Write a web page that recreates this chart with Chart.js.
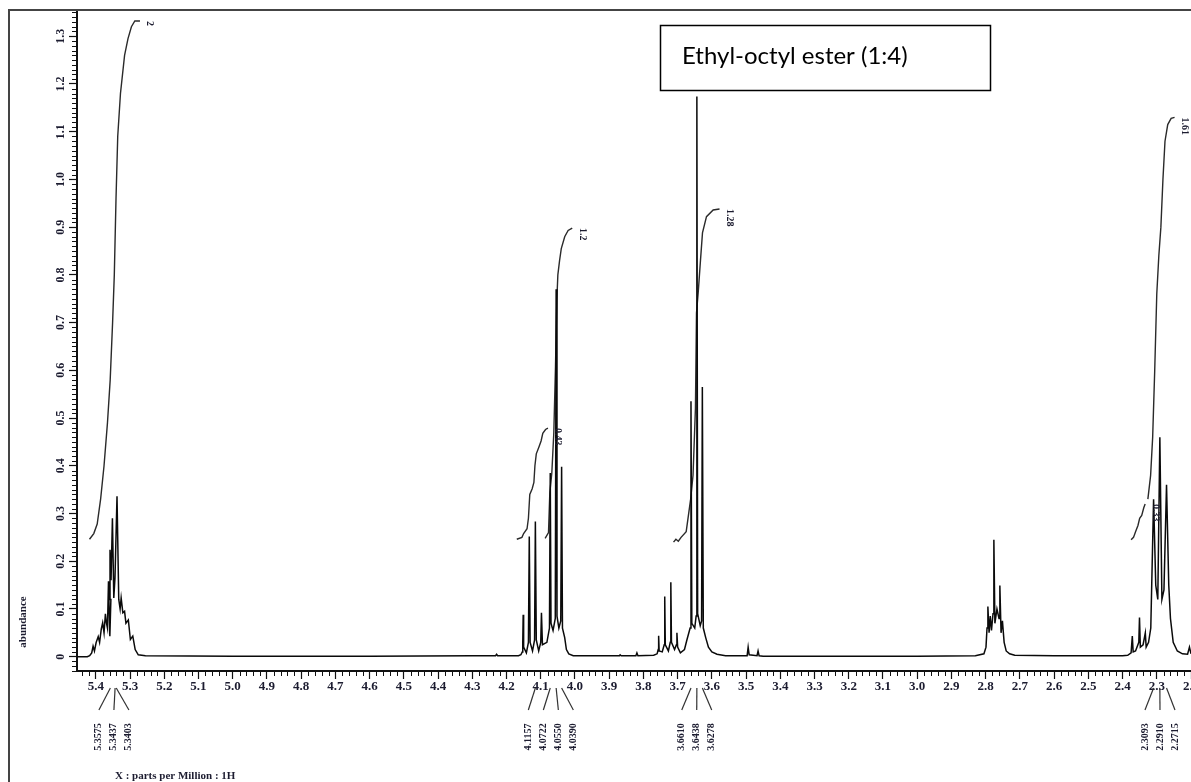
<!DOCTYPE html>
<html>
<head>
<meta charset="utf-8">
<title>1H NMR - Ethyl-octyl ester</title>
<script src="https://cdn.jsdelivr.net/npm/chart.js@4.4.1/dist/chart.umd.min.js"></script>
<style>
  html, body { margin: 0; padding: 0; background: #fff; }
  #wrap { width: 1191px; height: 782px; }
</style>
</head>
<body>
<div id="wrap"><canvas id="nmr" width="1191" height="782"></canvas></div>
<script>
// axis ranges (ppm runs right to left)
const xRange = [2.2, 5.455];
const yRange = [-0.03, 1.355];

// spectrum trace, [ppm, abundance], high field last
const olefinic = [
  [5.455, 0.000], [5.425, 0.000], [5.418, 0.002], [5.412, 0.008], [5.408, 0.022],
  [5.404, 0.012], [5.399, 0.030], [5.393, 0.042], [5.389, 0.030], [5.384, 0.058],
  [5.380, 0.071], [5.376, 0.050], [5.372, 0.090], [5.369, 0.071], [5.366, 0.060],
  [5.363, 0.158], [5.359, 0.043], [5.356, 0.120], [5.3585, 0.224], [5.3555, 0.160],
  [5.3515, 0.290], [5.3475, 0.123], [5.344, 0.165], [5.3381, 0.336], [5.333, 0.120],
  [5.329, 0.100], [5.326, 0.123], [5.321, 0.092], [5.316, 0.095], [5.312, 0.070],
  [5.305, 0.077], [5.299, 0.036], [5.292, 0.043], [5.285, 0.015], [5.276, 0.004],
  [5.255, 0.002]
];
const emptyLow = [
  [5.0, 0.001], [4.6, 0.001], [4.3, 0.002], [4.232, 0.002], [4.229, 0.005],
  [4.226, 0.002], [4.165, 0.002]
];
const esterCH2 = [
  [4.158, 0.004], [4.154, 0.010], [4.1525, 0.030], [4.1513, 0.088], [4.150, 0.020],
  [4.142, 0.008], [4.136, 0.030], [4.1335, 0.252], [4.131, 0.030], [4.124, 0.012],
  [4.118, 0.035], [4.1157, 0.283], [4.113, 0.035], [4.106, 0.012], [4.100, 0.030],
  [4.0979, 0.092], [4.095, 0.025], [4.082, 0.030], [4.0745, 0.060], [4.0722, 0.385],
  [4.0700, 0.070], [4.064, 0.055], [4.0575, 0.080], [4.0550, 0.770], [4.0525, 0.085],
  [4.047, 0.060], [4.0415, 0.075], [4.0390, 0.398], [4.0365, 0.060], [4.030, 0.040],
  [4.025, 0.015], [4.018, 0.006], [4.005, 0.002]
];
const methylene36 = [
  [3.870, 0.002], [3.868, 0.004], [3.865, 0.002], [3.822, 0.002], [3.819, 0.008],
  [3.816, 0.002], [3.770, 0.003], [3.760, 0.006], [3.7568, 0.015], [3.7555, 0.044],
  [3.754, 0.012], [3.745, 0.010], [3.7392, 0.025], [3.7377, 0.126], [3.736, 0.025],
  [3.727, 0.012], [3.7215, 0.030], [3.7199, 0.156], [3.718, 0.030], [3.709, 0.015],
  [3.7036, 0.025], [3.7021, 0.050], [3.700, 0.020], [3.692, 0.008], [3.680, 0.015],
  [3.673, 0.035], [3.6635, 0.060], [3.6610, 0.535], [3.6585, 0.070], [3.650, 0.060],
  [3.646, 0.085], [3.6438, 1.174], [3.6415, 0.090], [3.634, 0.065], [3.630, 0.075],
  [3.6278, 0.565], [3.625, 0.060], [3.618, 0.040], [3.610, 0.020], [3.600, 0.010],
  [3.585, 0.005], [3.560, 0.002], [3.497, 0.002], [3.494, 0.020], [3.491, 0.004],
  [3.468, 0.002], [3.465, 0.012], [3.462, 0.002], [3.450, 0.001], [3.0, 0.001],
  [2.83, 0.002]
];
const bisAllylic = [
  [2.805, 0.006], [2.799, 0.020], [2.7960, 0.060], [2.7935, 0.105], [2.790, 0.050],
  [2.7865, 0.085], [2.783, 0.055], [2.7785, 0.090], [2.7760, 0.245], [2.773, 0.070],
  [2.767, 0.100], [2.7610, 0.080], [2.7585, 0.149], [2.755, 0.050], [2.751, 0.075],
  [2.746, 0.030], [2.740, 0.012], [2.730, 0.006], [2.715, 0.003], [2.60, 0.002],
  [2.40, 0.002]
];
const alphaCH2 = [
  [2.385, 0.003], [2.375, 0.008], [2.3715, 0.043], [2.369, 0.010], [2.362, 0.012],
  [2.3525, 0.030], [2.3505, 0.082], [2.348, 0.020], [2.340, 0.025], [2.3335, 0.050],
  [2.331, 0.020], [2.324, 0.030], [2.3175, 0.060], [2.3093, 0.330], [2.303, 0.150],
  [2.297, 0.120], [2.2910, 0.460], [2.285, 0.120], [2.279, 0.140], [2.2715, 0.360],
  [2.265, 0.150], [2.260, 0.080], [2.252, 0.030], [2.240, 0.012], [2.225, 0.006],
  [2.210, 0.005], [2.2045, 0.020], [2.200, 0.006]
];

// integral curves, [ppm, height]
const int2 = [
  [5.4185, 0.246], [5.406, 0.258], [5.396, 0.278], [5.386, 0.330], [5.376, 0.400],
  [5.366, 0.490], [5.358, 0.580], [5.351, 0.700], [5.346, 0.800], [5.341, 0.960],
  [5.336, 1.090], [5.328, 1.180], [5.316, 1.260], [5.306, 1.295], [5.296, 1.320],
  [5.286, 1.332], [5.271, 1.332]
];
const int043 = [
  [4.170, 0.246], [4.155, 0.250], [4.150, 0.258], [4.140, 0.268], [4.136, 0.290],
  [4.132, 0.340], [4.125, 0.352], [4.120, 0.365], [4.117, 0.400], [4.113, 0.425],
  [4.105, 0.440], [4.099, 0.452], [4.094, 0.468], [4.086, 0.476], [4.079, 0.479]
];
const int12 = [
  [4.0872, 0.248], [4.0773, 0.260], [4.0735, 0.343], [4.0676, 0.385], [4.0618, 0.469],
  [4.0569, 0.608], [4.0530, 0.747], [4.0500, 0.800], [4.045, 0.830], [4.040, 0.855],
  [4.030, 0.880], [4.020, 0.893], [4.008, 0.898]
];
const int128 = [
  [3.712, 0.240], [3.705, 0.246], [3.698, 0.242], [3.690, 0.250], [3.675, 0.262],
  [3.662, 0.330], [3.655, 0.380], [3.648, 0.520], [3.6449, 0.720], [3.640, 0.762],
  [3.6332, 0.831], [3.6274, 0.888], [3.6157, 0.922], [3.5962, 0.936], [3.5776, 0.938]
];
const int033 = [
  [2.375, 0.245], [2.368, 0.250], [2.362, 0.262], [2.355, 0.275], [2.350, 0.290],
  [2.344, 0.296], [2.338, 0.312], [2.334, 0.320]
];
const int161 = [
  [2.326, 0.330], [2.318, 0.380], [2.312, 0.460], [2.306, 0.600], [2.300, 0.760],
  [2.294, 0.840], [2.288, 0.900], [2.282, 1.000], [2.276, 1.080], [2.268, 1.115],
  [2.258, 1.128], [2.248, 1.130]
];
const integralCurves = [int2, int043, int12, int128, int033, int161];
const integralValues = ['2', '0.43', '1.2', '1.28', '0.33', '1.61'];

// peak picks shown under the axis
const peakPicks = [
  [5.3575, 5.3437, 5.3403],
  [4.1157, 4.0722, 4.0550, 4.0390],
  [3.6610, 3.6438, 3.6278],
  [2.3093, 2.2910, 2.2715]
];

const spectrum = [].concat(olefinic, emptyLow, esterCH2, methylene36, bisAllylic, alphaCH2);
const toXY = arr => arr.map(p => ({ x: p[0], y: p[1] }));

const serif = "'Liberation Serif', 'Times New Roman', serif";
const ink = '#1c1c30';

const decor = {
  id: 'decor',
  afterDraw(chart) {
    const { ctx, chartArea: a, scales: { x, y } } = chart;
    ctx.save();

    // outer frame
    ctx.strokeStyle = '#444';
    ctx.lineWidth = 2;
    ctx.beginPath();
    ctx.moveTo(9, 782); ctx.lineTo(9, 10); ctx.lineTo(1191, 10);
    ctx.stroke();

    // minor ticks
    ctx.strokeStyle = '#111';
    ctx.lineWidth = 1;
    ctx.beginPath();
    for (let v = Math.ceil(yRange[0] * 100); v <= Math.floor(yRange[1] * 100); v++) {
      if (v % 10 === 0) continue;
      const py = Math.round(y.getPixelForValue(v / 100)) + 0.5;
      ctx.moveTo(a.left - 5, py); ctx.lineTo(a.left, py);
    }
    for (let v = Math.ceil(xRange[0] * 50); v <= Math.floor(xRange[1] * 50); v++) {
      if (v % 5 === 0) continue;
      const px = Math.round(x.getPixelForValue(v / 50)) + 0.5;
      ctx.moveTo(px, a.bottom); ctx.lineTo(px, a.bottom + 5);
    }
    ctx.stroke();

    // rotated y tick labels
    ctx.fillStyle = ink;
    ctx.font = 'bold 12px ' + serif;
    ctx.textAlign = 'center';
    ctx.textBaseline = 'middle';
    y.ticks.forEach(t => {
      const py = y.getPixelForValue(t.value);
      ctx.save();
      ctx.translate(61, py);
      ctx.rotate(-Math.PI / 2);
      ctx.fillText(t.value === 0 ? '0' : t.value.toFixed(1), 0, 0);
      ctx.restore();
    });

    // axis titles
    ctx.save();
    ctx.translate(23, 622);
    ctx.rotate(-Math.PI / 2);
    ctx.font = 'bold 11px ' + serif;
    ctx.fillText('abundance', 0, 0);
    ctx.restore();
    ctx.textAlign = 'left';
    ctx.font = 'bold 11px ' + serif;
    ctx.fillText('X : parts per Million : 1H', 115, 776);

    // peak pick connectors and values
    ctx.strokeStyle = '#333';
    ctx.lineWidth = 1.2;
    ctx.font = 'bold 10px ' + serif;
    peakPicks.forEach(group => {
      const px = group.map(v => x.getPixelForValue(v));
      const mid = px.reduce((s, v) => s + v, 0) / px.length;
      group.forEach((v, i) => {
        const lx = mid + (i - (group.length - 1) / 2) * 15;
        ctx.beginPath();
        ctx.moveTo(px[i], a.bottom + 17);
        ctx.lineTo(lx, a.bottom + 39);
        ctx.stroke();
        ctx.save();
        ctx.translate(lx, 737);
        ctx.rotate(-Math.PI / 2);
        ctx.textAlign = 'center';
        ctx.fillText(v.toFixed(4), 0, 0);
        ctx.restore();
      });
    });

    // integral values, next to the end of each curve
    ctx.font = 'bold 10px ' + serif;
    integralCurves.forEach((curve, i) => {
      const end = curve[curve.length - 1];
      const ex = x.getPixelForValue(end[0]) + 10;
      const ey = y.getPixelForValue(end[1]);
      ctx.save();
      ctx.translate(ex, ey);
      ctx.rotate(Math.PI / 2);
      ctx.textAlign = 'left';
      ctx.fillText(integralValues[i], 0, 0);
      ctx.restore();
    });

    // sample caption
    ctx.fillStyle = '#fff';
    ctx.fillRect(660, 25, 330, 65);
    ctx.strokeStyle = '#000';
    ctx.lineWidth = 1.5;
    ctx.strokeRect(660.5, 25.5, 330, 65);
    ctx.fillStyle = '#000';
    ctx.font = "24px 'Lato', 'Open Sans', sans-serif";
    ctx.textAlign = 'left';
    ctx.fillText('Ethyl-octyl ester (1:4)', 682, 56);

    ctx.restore();
  }
};

const datasets = [{
  data: toXY(spectrum),
  borderColor: '#0a0a0a',
  borderWidth: 1.5
}].concat(integralCurves.map(c => ({
  data: toXY(c),
  borderColor: '#2a2a2a',
  borderWidth: 1.4
})));

new Chart(document.getElementById('nmr').getContext('2d'), {
  type: 'line',
  data: { datasets },
  options: {
    responsive: false,
    animation: false,
    layout: { padding: { left: 9, top: 10, right: 0, bottom: 0 } },
    elements: { point: { radius: 0 }, line: { tension: 0 } },
    plugins: { legend: { display: false }, tooltip: { enabled: false } },
    scales: {
      x: {
        type: 'linear',
        reverse: true,
        min: xRange[0],
        max: xRange[1],
        border: { color: '#111', width: 2 },
        grid: { drawOnChartArea: false, tickLength: 8, tickColor: '#111', tickWidth: 1.2 },
        ticks: {
          stepSize: 0.1,
          includeBounds: false,
          autoSkip: false,
          maxRotation: 0,
          padding: 0,
          color: ink,
          font: { family: serif, size: 13, weight: 'bold' },
          callback: v => v.toFixed(1)
        },
        afterFit(s) { s.height = 111; s.paddingLeft = 0; s.paddingRight = 0; }
      },
      y: {
        type: 'linear',
        min: yRange[0],
        max: yRange[1],
        border: { color: '#111', width: 2 },
        grid: { drawOnChartArea: false, tickLength: 8, tickColor: '#111', tickWidth: 1.2 },
        ticks: { stepSize: 0.1, includeBounds: false, display: false },
        afterFit(s) { s.width = 68; s.paddingTop = 0; s.paddingBottom = 0; }
      }
    }
  },
  plugins: [decor]
});
</script>
</body>
</html>
